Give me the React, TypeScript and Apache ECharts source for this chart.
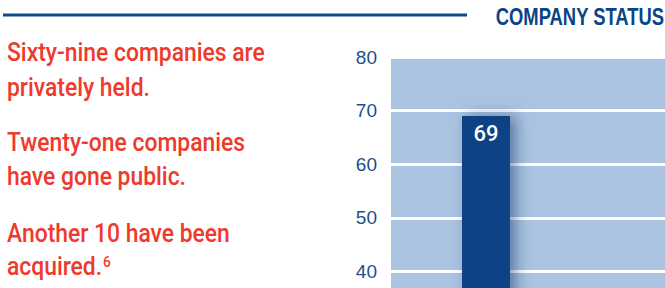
import React, { useEffect, useRef } from "react";
import * as echarts from "echarts";

const categories = ["Privately held", "Public", "Acquired"];
const companyCounts = [69, 21, 10];
const yTicks = [0, 80, 10]; // min, max, interval
const titleText = "COMPANY STATUS";
const notes = [
  ["Sixty-nine companies are", "privately held."],
  ["Twenty-one companies", "have gone public."],
  ["Another 10 have been", "acquired."],
];
const footnoteMark = "6";

const FONT = "Roboto, 'Liberation Sans', Arial, sans-serif";
const LFONT = "'Liberation Sans', Arial, sans-serif";
const RED = "#ee3a2c";
const BLUE = "#0a4486";

export default function App() {
  const ref = useRef<HTMLDivElement>(null);
  useEffect(() => {
    document.body.style.margin = "0";
    const chart = echarts.init(ref.current!, null, { renderer: "svg" });
    const baselines = [[63, 98], [153, 187], [244, 277]];
    const texts: any[] = [];
    notes.forEach((p, i) =>
      p.forEach((line, j) => {
        const last = i === notes.length - 1 && j === p.length - 1;
        texts.push({
          type: "text",
          x: 7,
          y: baselines[i][j] - 23,
          scaleX: 0.915,
          style: {
            text: last ? `{m|${line}}{sup|${footnoteMark}}` : line,
            fill: RED,
            font: `500 25px ${FONT}`,
            verticalAlign: "top",
            rich: last
              ? {
                  m: { fontSize: 25, fontFamily: FONT, fontWeight: 500, color: RED },
                  sup: {
                    fontSize: 15,
                    fontFamily: FONT,
                    fontWeight: 500,
                    color: RED,
                    verticalAlign: "top",
                    padding: [1, 0, 0, 1],
                  },
                }
              : undefined,
          },
        });
      })
    );
    chart.setOption({
      animation: false,
      backgroundColor: "#ffffff",
      grid: {
        left: 391,
        top: 57,
        width: 570,
        height: 429,
        outerBoundsMode: "none",
        containLabel: false,
        show: true,
        backgroundColor: "#a9c3e1",
        borderWidth: 0,
      },
      xAxis: {
        type: "category",
        data: categories,
        axisLine: { show: false },
        axisTick: { show: false },
        axisLabel: { show: false },
      },
      yAxis: {
        type: "value",
        min: yTicks[0],
        max: yTicks[1],
        interval: yTicks[2],
        axisLine: { show: false },
        axisTick: { show: false },
        splitLine: { show: true, lineStyle: { color: "#ffffff", width: 3 } },
        axisLabel: {
          color: "#1c4f8e",
          fontFamily: LFONT,
          fontSize: 19,
          margin: 14,
          padding: [5, 0, 0, 0],
        },
      },
      graphic: [
        {
          type: "line",
          shape: { x1: 3, y1: 15, x2: 467, y2: 15 },
          style: { stroke: "#0f4a8c", lineWidth: 3 },
        },
        {
          type: "text",
          x: 664,
          y: 5,
          scaleX: 0.8,
          style: {
            text: titleText,
            fill: BLUE,
            font: `bold 23px ${LFONT}`,
            align: "right",
            verticalAlign: "top",
          },
        },
        ...texts,
      ],
      series: [
        {
          type: "bar",
          data: companyCounts,
          barWidth: 48,
          itemStyle: {
            color: "#084385",
            shadowColor: "rgba(10,40,90,0.45)",
            shadowBlur: 14,
            shadowOffsetX: 6,
          },
          label: {
            show: true,
            position: "insideTop",
            distance: 7,
            color: "#ffffff",
            fontFamily: FONT,
            fontWeight: 500,
            fontSize: 22,
          },
        },
      ],
    });
    return () => chart.dispose();
  }, []);
  return <div ref={ref} style={{ width: 665, height: 288 }} />;
}
